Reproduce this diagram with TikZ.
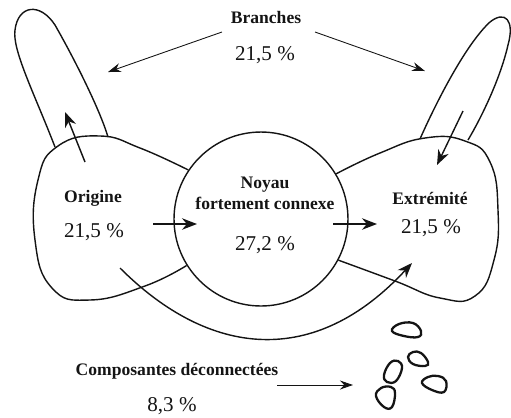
\documentclass[tikz,border=0pt]{standalone}
\usepackage{fontspec}
\setmainfont{Liberation Serif}
\usetikzlibrary{arrows.meta,calc,positioning}
\definecolor{BowInk}{HTML}{141414}
\tikzset{
  every node/.style={text=BowInk, inner sep=0pt},
  outline/.style={draw=BowInk, line width=0.8pt},
  island/.style={draw=BowInk, line width=1.3pt},
  flow/.style={-{Stealth[length=3mm,width=2.3mm]}, draw=BowInk, line width=0.8pt},
  pointer/.style={-{Stealth[length=2.6mm,width=1.8mm]}, draw=BowInk, line width=0.5pt},
  heading/.style={font=\bfseries},
  share/.style={font=\large},
}

\begin{document}
\begin{tikzpicture}[x=0.02cm, y=-0.02cm]
  \useasboundingbox (0,0) rectangle (511,417);

  % Core: strongly connected component
  \node[outline, circle, minimum size=3.48cm] (noyau) at (261,219) {};
  \node[heading, align=center] (noyautxt) at (265,193) {Noyau\\fortement connexe};
  \node[share] (noyaupct) at (265,245) {27,2 \%};

  % Origin lobe with its ear
  \draw[outline] plot[smooth, tension=0.8] coordinates {(noyau.146) (140,148) (100,136) (58,146) (38,180) (35,240) (52,288) (90,300) (145,286) (noyau.212)};
  \draw[outline] (55,147) .. controls (35,95) and (12,50) .. (15,30)
    .. controls (18,5) and (40,2) .. (55,25)
    .. controls (75,60) and (100,110) .. (108,137);
  \node[heading] (origine) at (93,198) {Origine};
  \node[share] (originepct) at (94,232) {21,5 \%};

  % End lobe with its ear
  \draw[outline] plot[smooth, tension=0.8] coordinates {(noyau.31) (380,153) (425,138) (465,141) (490,162) (498,210) (494,260) (475,296) (440,298) (395,281) (noyau.332)};
  \draw[outline] (420,139) .. controls (435,105) and (465,45) .. (490,22)
    .. controls (505,10) and (515,20) .. (508,45)
    .. controls (500,80) and (480,120) .. (468,140);
  \node[heading] (extremite) at (430,198) {Extrémité};
  \node[share] (extremitepct) at (431,228) {21,5 \%};

  % Branches label and its pointers
  \node[heading] (branches) at (266,17) {Branches};
  \node[share] (branchespct) at (265,55) {21,5 \%};
  \coordinate (brleft) at (222,32);
  \coordinate (brright) at (315,32);
  \coordinate (earleft) at (108,72);
  \coordinate (earright) at (425,71);
  \draw[pointer] (brleft) -- (earleft);
  \draw[pointer] (brright) -- (earright);

  % Flows through the bow tie
  \coordinate (inleft) at (85,162);
  \coordinate (outleft) at (65,112);
  \coordinate (inright) at (463,111);
  \coordinate (outright) at (437,165);
  \draw[flow] (inleft) -- (outleft);
  \draw[flow] (inright) -- (outright);

  \coordinate (origout) at (153,224);
  \coordinate (noyauin) at (197,224);
  \coordinate (noyauout) at (333,224);
  \coordinate (extin) at (377,224);
  \draw[flow] (origout) -- (noyauin);
  \draw[flow] (noyauout) -- (extin);

  % Tube bypassing the core
  \coordinate (tubestart) at (120,268);
  \coordinate (tubeend) at (412,263);
  \draw[flow] (tubestart) .. controls (210,358) and (315,368) .. (tubeend);

  % Disconnected components
  \node[heading] (composantes) at (177,371) {Composantes déconnectées};
  \node[share] (composantespct) at (172,406) {8,3 \%};
  \coordinate (composout) at (277,385);
  \coordinate (islands) at (353,385);
  \draw[pointer] (composout) -- (islands);

  \draw[island] plot[smooth cycle, tension=0.7] coordinates {(392,331) (399,324) (413,323) (421,331) (418,337) (404,336)};
  \draw[island] plot[smooth cycle, tension=0.7] coordinates {(408,357) (413,352) (421,353) (428,362) (425,366) (413,364)};
  \draw[island] plot[smooth cycle, tension=0.7] coordinates {(384,375) (390,363) (398,361) (402,368) (396,381) (387,382)};
  \draw[island] plot[smooth cycle, tension=0.7] coordinates {(422,383) (428,377) (438,376) (446,381) (444,392) (432,390)};
  \draw[island] plot[smooth cycle, tension=0.7] coordinates {(376,396) (381,388) (391,387) (395,393) (392,407) (384,407)};
\end{tikzpicture}
\end{document}
